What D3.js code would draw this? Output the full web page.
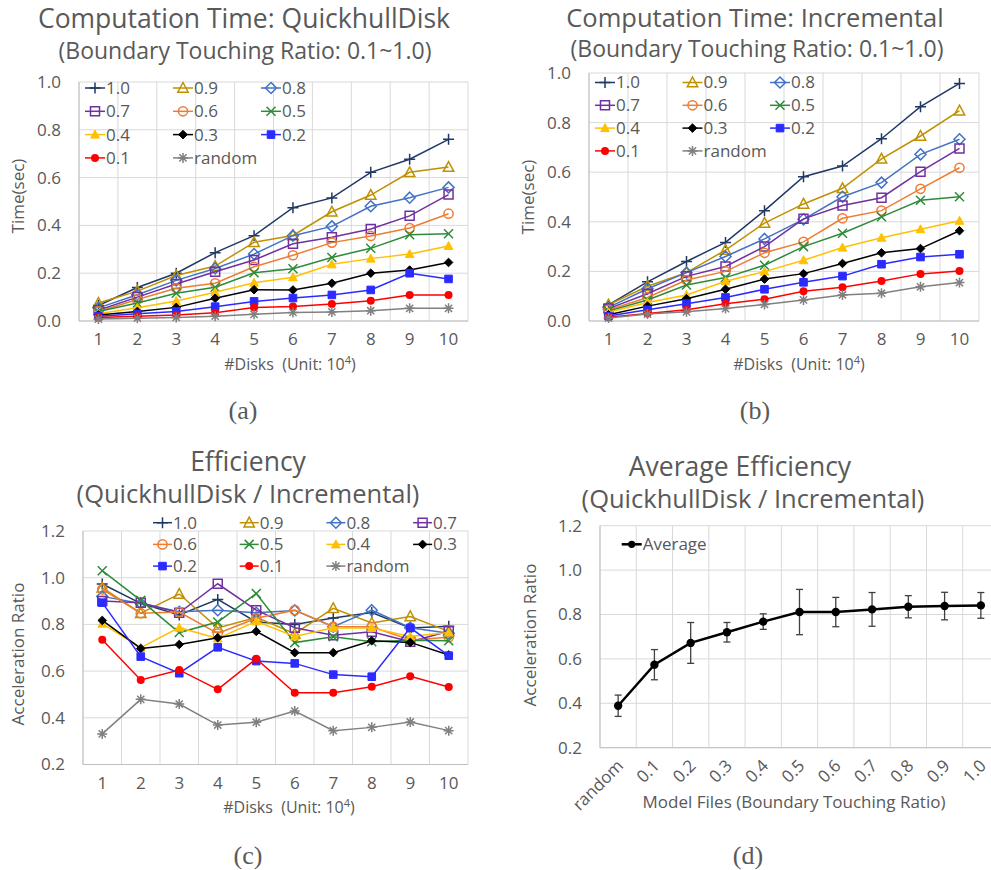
<!DOCTYPE html>
<html>
<head>
<meta charset="utf-8">
<script src="https://cdnjs.cloudflare.com/ajax/libs/d3/7.8.5/d3.min.js"></script>
<style>
	body { margin: 0; background: #fff; }
	svg { display: block; }
	text { font-family: "Open Sans", sans-serif; fill: #595959; }
</style>
</head>
<body>
<svg width="991" height="870"></svg>
<script>
// Categories
let disks = ["1", "2", "3", "4", "5", "6", "7", "8", "9", "10"];
let ratios = ["1.0", "0.9", "0.8", "0.7", "0.6", "0.5", "0.4", "0.3", "0.2", "0.1", "random"];
let modelFiles = ["random", "0.1", "0.2", "0.3", "0.4", "0.5", "0.6", "0.7", "0.8", "0.9", "1.0"];

// (a) QuickhullDisk time (sec)
let qh10 = [0.065, 0.14, 0.2, 0.286, 0.357, 0.474, 0.515, 0.622, 0.677, 0.76];
let qh09 = [0.075, 0.125, 0.19, 0.23, 0.329, 0.358, 0.457, 0.527, 0.622, 0.644];
let qh08 = [0.055, 0.11, 0.17, 0.22, 0.28, 0.357, 0.396, 0.48, 0.516, 0.559];
let qh07 = [0.045, 0.1, 0.155, 0.206, 0.255, 0.323, 0.35, 0.385, 0.44, 0.529];
let qh06 = [0.04, 0.09, 0.137, 0.158, 0.227, 0.275, 0.328, 0.356, 0.389, 0.449];
let qh05 = [0.04, 0.075, 0.116, 0.141, 0.202, 0.219, 0.266, 0.304, 0.361, 0.365];
let qh04 = [0.03, 0.055, 0.084, 0.12, 0.16, 0.183, 0.237, 0.261, 0.28, 0.314];
let qh03 = [0.025, 0.04, 0.057, 0.095, 0.131, 0.13, 0.158, 0.2, 0.213, 0.245];
let qh02 = [0.02, 0.03, 0.04, 0.06, 0.082, 0.096, 0.109, 0.13, 0.2, 0.176];
let qh01 = [0.015, 0.02, 0.025, 0.035, 0.056, 0.061, 0.071, 0.085, 0.109, 0.109];
let qhRandom = [0.008, 0.012, 0.015, 0.02, 0.028, 0.036, 0.038, 0.043, 0.053, 0.053];

// (b) Incremental time (sec)
let inc10 = [0.065, 0.158, 0.24, 0.317, 0.445, 0.582, 0.625, 0.735, 0.864, 0.958];
let inc09 = [0.065, 0.14, 0.195, 0.286, 0.395, 0.472, 0.535, 0.654, 0.746, 0.848];
let inc08 = [0.055, 0.13, 0.195, 0.26, 0.331, 0.41, 0.501, 0.558, 0.672, 0.733];
let inc07 = [0.05, 0.11, 0.18, 0.22, 0.3, 0.412, 0.466, 0.497, 0.602, 0.696];
let inc06 = [0.045, 0.095, 0.165, 0.2, 0.275, 0.319, 0.414, 0.445, 0.533, 0.618];
let inc05 = [0.04, 0.085, 0.145, 0.175, 0.225, 0.3, 0.354, 0.42, 0.487, 0.501];
let inc04 = [0.035, 0.075, 0.105, 0.16, 0.199, 0.245, 0.296, 0.336, 0.37, 0.404];
let inc03 = [0.025, 0.06, 0.09, 0.128, 0.169, 0.191, 0.232, 0.275, 0.292, 0.364];
let inc02 = [0.02, 0.045, 0.07, 0.095, 0.128, 0.156, 0.181, 0.229, 0.258, 0.269];
let inc01 = [0.015, 0.03, 0.045, 0.07, 0.0875, 0.12, 0.136, 0.161, 0.19, 0.202];
let incRandom = [0.012, 0.028, 0.037, 0.05, 0.067, 0.085, 0.105, 0.112, 0.138, 0.155];

// (c) Efficiency (acceleration ratio)
let eff10 = [0.973, 0.89, 0.84, 0.907, 0.81, 0.8, 0.827, 0.851, 0.785, 0.792];
let eff09 = [0.957, 0.848, 0.93, 0.785, 0.83, 0.76, 0.869, 0.806, 0.834, 0.77];
let eff08 = [0.92, 0.89, 0.854, 0.861, 0.85, 0.86, 0.79, 0.861, 0.786, 0.762];
let eff07 = [0.9, 0.893, 0.85, 0.974, 0.861, 0.786, 0.754, 0.768, 0.726, 0.771];
let eff06 = [0.95, 0.848, 0.853, 0.761, 0.826, 0.861, 0.79, 0.79, 0.733, 0.745];
let eff05 = [1.03, 0.903, 0.765, 0.81, 0.932, 0.722, 0.747, 0.726, 0.732, 0.73];
let eff04 = [0.803, 0.7, 0.786, 0.74, 0.813, 0.748, 0.786, 0.785, 0.748, 0.765];
let eff03 = [0.817, 0.697, 0.714, 0.743, 0.77, 0.679, 0.679, 0.73, 0.723, 0.669];
let eff02 = [0.893, 0.662, 0.591, 0.702, 0.643, 0.633, 0.585, 0.576, 0.785, 0.666];
let eff01 = [0.734, 0.562, 0.605, 0.522, 0.653, 0.507, 0.507, 0.533, 0.578, 0.532];
let effRandom = [0.331, 0.479, 0.459, 0.369, 0.381, 0.429, 0.345, 0.359, 0.382, 0.345];

// (d) Average efficiency with error
let avgEff = [0.389, 0.574, 0.672, 0.72, 0.768, 0.811, 0.811, 0.823, 0.835, 0.838, 0.841];
let avgErr = [0.048, 0.068, 0.092, 0.044, 0.035, 0.102, 0.066, 0.076, 0.05, 0.062, 0.058];

let qhSeries = [qh10, qh09, qh08, qh07, qh06, qh05, qh04, qh03, qh02, qh01, qhRandom];
let incSeries = [inc10, inc09, inc08, inc07, inc06, inc05, inc04, inc03, inc02, inc01, incRandom];
let effSeries = [eff10, eff09, eff08, eff07, eff06, eff05, eff04, eff03, eff02, eff01, effRandom];

// Series styles
let colors = ["#203864", "#BF9000", "#4472C4", "#7030A0", "#ED7D31", "#2E8B3A", "#FFC000", "#000000", "#2B2BFF", "#FF0000", "#808080"];
let shapes = ["plus", "triOpen", "diaOpen", "sqOpen", "cirOpen", "x", "tri", "dia", "sq", "cir", "star"];

let svg = d3.select("svg");

// Marker drawing
let drawMarker = (g, shape, color) => {
	let open = (d) => g.append("path").attr("d", d).attr("fill", "none").attr("stroke", color).attr("stroke-width", 1.5);
	let fill = (d) => g.append("path").attr("d", d).attr("fill", color).attr("stroke", color).attr("stroke-width", 1);
	if (shape === "plus") open("M-5.5,0H5.5M0,-5.5V5.5");
	if (shape === "x") open("M-4.5,-4.5L4.5,4.5M-4.5,4.5L4.5,-4.5");
	if (shape === "star") open("M-5,0H5M0,-5V5M-3.6,-3.6L3.6,3.6M-3.6,3.6L3.6,-3.6");
	if (shape === "triOpen") open("M0,-5.5L5.2,4.2L-5.2,4.2Z");
	if (shape === "diaOpen") open("M0,-5.5L5.5,0L0,5.5L-5.5,0Z");
	if (shape === "sqOpen") open("M-4.5,-4.5H4.5V4.5H-4.5Z");
	if (shape === "cirOpen") g.append("circle").attr("r", 4.6).attr("fill", "none").attr("stroke", color).attr("stroke-width", 1.5);
	if (shape === "tri") fill("M0,-4.5L4.3,3.5L-4.3,3.5Z");
	if (shape === "dia") fill("M0,-4.3L4.3,0L0,4.3L-4.3,0Z");
	if (shape === "sq") fill("M-3.8,-3.8H3.8V3.8H-3.8Z");
	if (shape === "cir") g.append("circle").attr("r", 4).attr("fill", color);
};

// Frame: gridlines, axes, tick labels
let drawFrame = (p, cats) => {
	let x = d3.scaleBand().domain(cats).range([p.left, p.right]).padding(0);
	let y = d3.scaleLinear().domain([p.yMin, p.yMax]).range([p.bottom, p.top]);
	let ticks = d3.range(p.yMin, p.yMax + 0.001, 0.2);
	let g = svg.append("g");

	g.selectAll(".hg").data(ticks).join("line")
		.attr("x1", p.left).attr("x2", p.right)
		.attr("y1", (d) => y(d)).attr("y2", (d) => y(d))
		.attr("stroke", "#D9D9D9").attr("stroke-width", 1);
	let bounds = cats.map((c) => x(c)).concat([p.right]);
	g.selectAll(".vg").data(bounds).join("line")
		.attr("x1", (d) => d).attr("x2", (d) => d)
		.attr("y1", p.top).attr("y2", p.bottom)
		.attr("stroke", "#D9D9D9").attr("stroke-width", 1);
	g.append("line").attr("x1", p.left).attr("x2", p.left).attr("y1", p.top).attr("y2", p.bottom)
		.attr("stroke", "#BFBFBF");
	g.append("line").attr("x1", p.left).attr("x2", p.right).attr("y1", p.bottom).attr("y2", p.bottom)
		.attr("stroke", "#BFBFBF");

	let yAxis = d3.axisLeft(y).tickValues(ticks).tickFormat(d3.format(".1f")).tickSize(0).tickPadding(18);
	let ya = g.append("g").attr("transform", "translate(" + p.left + ",0)").call(yAxis);
	ya.select(".domain").remove();
	ya.selectAll("text").style("font-size", "17px").attr("fill", "#595959");

	let xAxis = d3.axisBottom(x).tickSize(0).tickPadding(p.rotate ? 0 : 12);
	let xa = g.append("g").attr("transform", "translate(0," + p.bottom + ")").call(xAxis);
	xa.select(".domain").remove();
	xa.selectAll("text").style("font-size", "17px").attr("fill", "#595959");
	if (p.rotate) {
		xa.selectAll("text").attr("y", 0).attr("dy", "0.35em")
			.attr("text-anchor", "end")
			.attr("transform", "translate(2,15) rotate(-45)");
	}
	return { x, y };
};

let cx = (x, c) => x(c) + x.bandwidth() / 2;

// Series lines + markers
let drawSeries = (sc, cats, series) => {
	series.forEach((vals, i) => {
		let line = d3.line().x((d, j) => cx(sc.x, cats[j])).y((d) => sc.y(d));
		svg.append("path").datum(vals).attr("d", line)
			.attr("fill", "none").attr("stroke", colors[i]).attr("stroke-width", 1.5);
		vals.forEach((v, j) => {
			let m = svg.append("g").attr("transform", "translate(" + cx(sc.x, cats[j]) + "," + sc.y(v) + ")");
			drawMarker(m, shapes[i], colors[i]);
		});
	});
};

// Legend
let drawLegend = (lg, names, cols) => {
	names.forEach((n, i) => {
		let lx = lg.x + (i % lg.cols) * lg.dx;
		let ly = lg.y + Math.floor(i / lg.cols) * lg.dy;
		svg.append("line").attr("x1", lx).attr("x2", lx + lg.len).attr("y1", ly).attr("y2", ly)
			.attr("stroke", cols[i]).attr("stroke-width", lg.width || 1.5);
		let m = svg.append("g").attr("transform", "translate(" + (lx + lg.len / 2) + "," + ly + ")");
		if (lg.shapes) drawMarker(m, lg.shapes[i], cols[i]);
		else m.append("circle").attr("r", 3.6).attr("fill", cols[i]);
		svg.append("text").attr("x", lx + lg.len + 1).attr("y", ly).attr("dy", "0.35em")
			.style("font-size", "17px").text(n);
	});
};

let drawText = (x, y, s, size, opts) => {
	let t = svg.append("text").attr("x", x).attr("y", y).attr("text-anchor", "middle")
		.style("font-size", size + "px").text(s);
	if (opts && opts.rotate) t.attr("transform", "rotate(-90," + x + "," + y + ")").attr("dy", "0.35em");
	if (opts && opts.serif) t.style("font-family", "'Liberation Serif', serif").attr("fill", "#000");
	return t;
};

let drawUnitTitle = (x, y) => {
	let t = svg.append("text").attr("x", x).attr("y", y).attr("text-anchor", "middle").style("font-size", "16px");
	t.append("tspan").text("#Disks\u00A0\u00A0(Unit: 10");
	t.append("tspan").attr("dy", -6).style("font-size", "11px").text("4");
	t.append("tspan").attr("dy", 6).text(")");
};

// Panel (a)
let pa = { left: 79, right: 468, top: 82, bottom: 321, yMin: 0, yMax: 1 };
let sa = drawFrame(pa, disks);
drawSeries(sa, disks, qhSeries);
drawLegend({ x: 85, y: 88, dx: 88, dy: 23.3, cols: 3, len: 20, shapes: shapes }, ratios, colors);
drawText(244, 28, "Computation Time: QuickhullDisk", 26.5);
drawText(245, 59, "(Boundary Touching Ratio: 0.1~1.0)", 23);
drawText(18, 196, "Time(sec)", 17, { rotate: true });
drawUnitTitle(290, 370);
drawText(243, 419, "(a)", 26, { serif: true });

// Panel (b)
let pb = { left: 589, right: 979, top: 73, bottom: 321, yMin: 0, yMax: 1 };
let sb = drawFrame(pb, disks);
drawSeries(sb, disks, incSeries);
drawLegend({ x: 595, y: 82.5, dx: 87.5, dy: 22.8, cols: 3, len: 20, shapes: shapes }, ratios, colors);
drawText(755, 27, "Computation Time: Incremental", 25.5);
drawText(757, 57, "(Boundary Touching Ratio: 0.1~1.0)", 23);
drawText(528, 197, "Time(sec)", 17, { rotate: true });
drawUnitTitle(799, 370);
drawText(755, 419, "(b)", 26, { serif: true });

// Panel (c)
let pc = { left: 83, right: 468, top: 531, bottom: 764.5, yMin: 0.2, yMax: 1.2 };
let scc = drawFrame(pc, disks);
drawSeries(scc, disks, effSeries);
drawLegend({ x: 153, y: 522.7, dx: 86.7, dy: 21.7, cols: 4, len: 19, shapes: shapes }, ratios, colors);
drawText(248, 471, "Efficiency", 26.5);
drawText(248, 503, "(QuickhullDisk / Incremental)", 25.5);
drawText(18, 654, "Acceleration Ratio", 17, { rotate: true });
drawUnitTitle(289, 813);
drawText(248, 864, "(c)", 26, { serif: true });

// Panel (d)
let pd = { left: 600, right: 999, top: 525.7, bottom: 747.7, yMin: 0.2, yMax: 1.2, rotate: true };
let sd = drawFrame(pd, modelFiles);
let errG = svg.append("g");
avgEff.forEach((v, i) => {
	let px = cx(sd.x, modelFiles[i]);
	let y0 = sd.y(v - avgErr[i]), y1 = sd.y(v + avgErr[i]);
	errG.append("line").attr("x1", px).attr("x2", px).attr("y1", y0).attr("y2", y1).attr("stroke", "#404040").attr("stroke-width", 1.3);
	errG.append("line").attr("x1", px - 3.5).attr("x2", px + 3.5).attr("y1", y0).attr("y2", y0).attr("stroke", "#404040").attr("stroke-width", 1.3);
	errG.append("line").attr("x1", px - 3.5).attr("x2", px + 3.5).attr("y1", y1).attr("y2", y1).attr("stroke", "#404040").attr("stroke-width", 1.3);
});
let avgLine = d3.line().x((d, i) => cx(sd.x, modelFiles[i])).y((d) => sd.y(d));
svg.append("path").datum(avgEff).attr("d", avgLine).attr("fill", "none").attr("stroke", "#000").attr("stroke-width", 2.5);
svg.selectAll(".avgPt").data(avgEff).join("circle")
	.attr("cx", (d, i) => cx(sd.x, modelFiles[i])).attr("cy", (d) => sd.y(d))
	.attr("r", 4.2).attr("fill", "#000");
drawLegend({ x: 621.7, y: 544.3, dx: 0, dy: 0, cols: 1, len: 20, width: 2.5 }, ["Average"], ["#000"]);
drawText(740, 476, "Average Efficiency", 26.5);
drawText(753, 508, "(QuickhullDisk / Incremental)", 25.5);
drawText(530, 635, "Acceleration Ratio", 17, { rotate: true });
drawText(794, 808, "Model Files (Boundary Touching Ratio)", 17);
drawText(748, 864, "(d)", 26, { serif: true });
</script>
</body>
</html>
